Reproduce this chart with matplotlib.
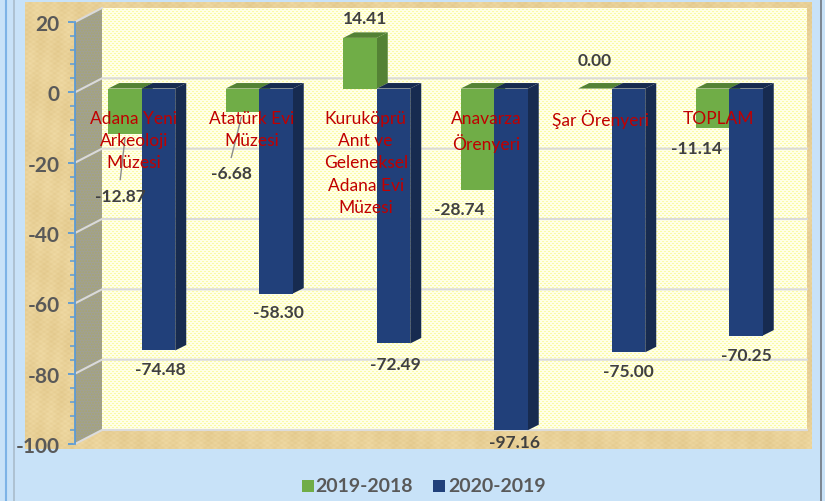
import matplotlib
matplotlib.use('Agg')
import matplotlib.pyplot as plt
import numpy as np
from matplotlib.patches import Polygon, Rectangle

# ====================== data ======================
categories = ['Adana Yeni\nArkeoloji\nMüzesi', 'Atatürk Evi\nMüzesi',
              'Kuruköprü\nAnıt ve\nGeleneksel\nAdana Evi\nMüzesi',
              'Anavarza\nÖrenyeri', 'Şar Örenyeri', 'TOPLAM']
values_2019 = [-12.87, -6.68, 14.41, -28.74, 0.00, -11.14]
values_2020 = [-74.48, -58.30, -72.49, -97.16, -75.00, -70.25]
series_names = ['2019-2018', '2020-2019']
y_ticks = [20, 0, -20, -40, -60, -80, -100]

# where the data labels sit, in picture pixels
label_px_2019 = [(120, 197), (231, 174), (365, 19), (459, 210), (595, 61), (697, 149)]
label_px_2020 = [(160, 370), (278, 313), (395, 365), (514, 443), (628, 372), (746, 356)]
# category label centres are nudged a little off the group centre
label_nudge = [0, 0, -3, 0, -3, -3]

W, H = 825, 502
GREEN, GREEN_D = '#70AD47', '#548235'
BLUE, BLUE_D = '#21407A', '#172B50'
TXT = '#404040'
plt.rcParams['font.family'] = ['Lato', 'DejaVu Sans']
plt.rcParams['axes.unicode_minus'] = False

fig = plt.figure(figsize=(W / 100, H / 100), dpi=100, facecolor='#C8E2F8')


def px_axes(x0, y0, x1, y1):
    return fig.add_axes([x0 / W, 1 - y1 / H, (x1 - x0) / W, (y1 - y0) / H])


def px_text(x, y, s, **kw):
    fig.text(x / W, 1 - y / H, s, ha='center', va='center', **kw)


# background layer, in pixels
bg = px_axes(0, 0, W, H)
bg.set_xlim(0, W)
bg.set_ylim(H, 0)
bg.axis('off')
bg.plot([5.5, 5.5], [0, H], color='#7DB3E6', lw=1.5)
bg.plot([14, 14], [0, H], color='#A9BCCB', lw=1.2)
bg.plot([821, 821], [0, H], color='#6E7680', lw=1.2)

# papyrus texture, plain sines
xx, yy = np.meshgrid(np.arange(25, 812), np.arange(3, 450))
tan = (np.sin(xx * 0.9) * np.sin(yy * 1.3) * 0.5 + np.sin(xx * 0.37 + yy * 0.05) * 0.3
       + np.sin(xx * 0.07 - yy * 0.11) * 0.3)
tan_rgb = np.dstack([233 + tan * 6, 209 + tan * 8, 152 + tan * 11]) / 255
bg.imshow(tan_rgb, extent=(25, 812, 450, 3), aspect='auto', zorder=1, interpolation='bilinear')

# back wall with a fine yellow dot pattern
xx, yy = np.meshgrid(np.arange(102, 807), np.arange(9, 431))
dots = ((xx + yy) % 4 < 2) * ((xx - yy) % 4 < 2)
wall = np.ones(dots.shape + (3,)) * np.array([255, 255, 230]) / 255
wall[dots] = np.array([250, 250, 165]) / 255
bg.imshow(wall, extent=(102, 807, 431, 9), aspect='auto', zorder=2, interpolation='bilinear')
bg.set_xlim(0, W)
bg.set_ylim(H, 0)

# main axes: the front plane of the 3D box
ax = px_axes(75, 23, 780, 445)
ax.set_xlim(-0.5, 5.5)
ax.set_ylim(-100, 20)
ax.patch.set_alpha(0)
for s in ['top', 'right', 'bottom']:
    ax.spines[s].set_visible(False)
ax.spines['left'].set_color('#5B9BD5')
ax.spines['left'].set_linewidth(1.3)
ax.set_xticks([])
ax.set_yticks(y_ticks)
ax.set_yticks(np.arange(-100, 21, 4), minor=True)
ax.tick_params(axis='y', which='major', length=5, width=1.3, color='#5B9BD5', pad=6,
               labelsize=15, labelcolor='#595959')
ax.tick_params(axis='y', which='minor', length=3.5, width=1.1, color='#5B9BD5')
for t in ax.get_yticklabels():
    t.set_fontweight('bold')

px_x = 705 / 6
px_y = 422 / 120
depth_x, depth_y = 27 / px_x, 14 / px_y      # box depth
bar_dx, bar_dy = 11 / px_x, 5.5 / px_y       # bar depth
off_x, off_y = 8 / px_x, 3.8 / px_y          # bars stand a little behind the front plane
bar_w = 33.5 / px_x

# side wall
ax.add_patch(Polygon([(-0.5, -100), (-0.5 + depth_x, -100 + depth_y),
                      (-0.5 + depth_x, 20 + depth_y), (-0.5, 20)],
                     fc='#A0A096', ec='#A8A66E', hatch='......', lw=0, zorder=1, clip_on=False))
ax.plot([-0.5, -0.5 + depth_x], [20, 20 + depth_y], color='#DADADA', lw=1.5, zorder=2, clip_on=False)

# grid runs along the side wall then across the back wall
for v in y_ticks[1:-1]:
    ax.plot([-0.5, -0.5 + depth_x, 5.5 + depth_x], [v, v + depth_y, v + depth_y],
            color='#DADADA', lw=1.5, zorder=2, clip_on=False)
ax.plot([-0.5, -0.5 + depth_x, 5.5 + depth_x], [-100, -100 + depth_y, -100 + depth_y],
        color='#DCDCDC', lw=1.5, zorder=2, clip_on=False)


def draw_bars(x_left, vals, face, dark, z):
    ax.bar(x_left, vals, width=bar_w, bottom=off_y, align='edge', color=face, zorder=z + 0.2,
           clip_on=False)
    for x, v in zip(x_left, vals):
        top = max(v, 0) + off_y
        low = min(v, 0) + off_y
        ax.add_patch(Polygon([(x, top), (x + bar_dx, top + bar_dy),
                              (x + bar_w + bar_dx, top + bar_dy), (x + bar_w, top)],
                             fc=dark, lw=0, zorder=z, clip_on=False))
        ax.add_patch(Polygon([(x + bar_w, low), (x + bar_w + bar_dx, low + bar_dy),
                              (x + bar_w + bar_dx, top + bar_dy), (x + bar_w, top)],
                             fc=dark, lw=0, zorder=z, clip_on=False))


pos = np.arange(len(categories))
draw_bars(pos + off_x - bar_w, values_2019, GREEN, GREEN_D, 3)
draw_bars(pos + off_x, values_2020, BLUE, BLUE_D, 4)

# leader lines
ax.plot([pos[0] - 0.075, pos[0] - 0.115], [-13.2, -24.8], color='#8C8C8C', lw=1, zorder=6)
ax.plot([pos[1] - 0.085, pos[1] - 0.17], [-7.2, -18.5], color='#8C8C8C', lw=1, zorder=6)

# category labels sit inside the plot, over the bars
for i, name in enumerate(categories):
    ax.text(i + label_nudge[i] / px_x, -4.9, name, color='#C00000', fontsize=12.5, ha='center', va='top',
            linespacing=1.49, zorder=7)

for vals, places in [(values_2019, label_px_2019), (values_2020, label_px_2020)]:
    for v, (x, y) in zip(vals, places):
        px_text(x, y, f'{v:.2f}', color=TXT, fontsize=12.5, fontweight='bold', zorder=8)

# legend
for x, c, name, tx in [(302, GREEN, series_names[0], 364.5), (433, BLUE, series_names[1], 497.5)]:
    fig.patches.append(Rectangle((x / W, 1 - 493 / H), 12 / W, 12 / H, transform=fig.transFigure,
                                 fc=c, lw=0))
    px_text(tx, 487, name, color='#595959', fontsize=14, fontweight='bold')

fig.savefig('out.png', dpi=100, facecolor=fig.get_facecolor())
